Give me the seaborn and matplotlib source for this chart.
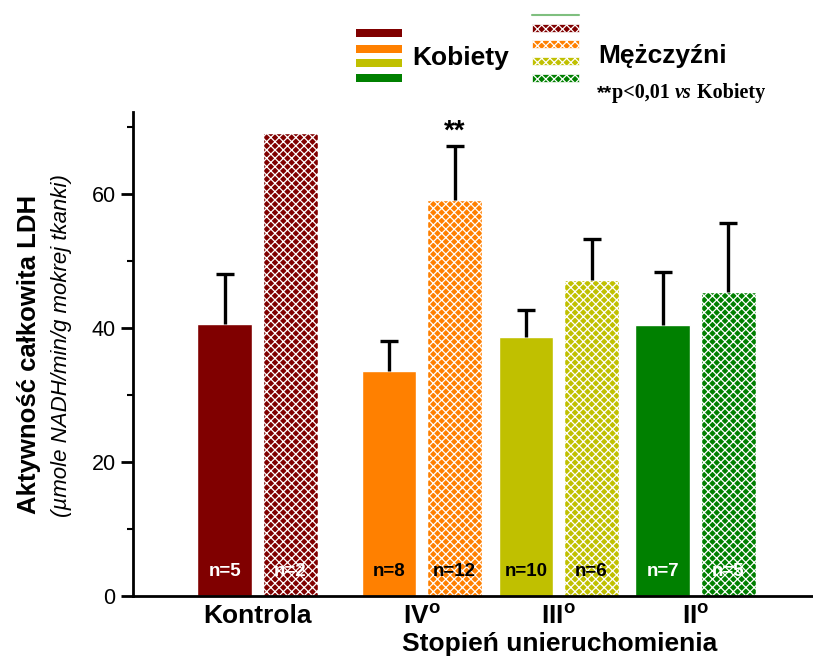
import matplotlib
matplotlib.use("Agg")
import matplotlib.pyplot as plt
from matplotlib.patches import Rectangle
from matplotlib.lines import Line2D
import pandas as pd
import seaborn as sns

# --- data -------------------------------------------------------------
group_pos = [0.0, 1.2, 2.2, 3.2]
group_labels = ["Kontrola", r"IV$^{\mathrm{o}}$", r"III$^{\mathrm{o}}$", r"II$^{\mathrm{o}}$"]
kobiety_mean = [40.6, 33.6, 38.6, 40.4]
kobiety_sd = [7.5, 4.5, 4.0, 8.0]
mezczyzni_mean = [69.1, 59.1, 47.2, 45.3]
mezczyzni_sd = [0.0, 8.1, 6.1, 10.3]
kobiety_n = [5, 8, 10, 7]
mezczyzni_n = [2, 12, 6, 5]
group_colors = ["#800000", "#FF8000", "#C0C000", "#008000"]
n_text_colors = ["white", "black", "black", "white"]
yticks_major = [0, 20, 40, 60]
yticks_minor = [10, 30, 50, 70]

# --- style ------------------------------------------------------------
sns.set_style("ticks")
plt.rcParams["font.family"] = ["Liberation Sans", "DejaVu Sans"]
plt.rcParams["mathtext.fontset"] = "custom"
plt.rcParams["mathtext.rm"] = "Liberation Sans:bold"
plt.rcParams["mathtext.it"] = "Liberation Sans:bold"
plt.rcParams["mathtext.bf"] = "Liberation Sans:bold"
plt.rcParams["hatch.linewidth"] = 0.9
for key in ["text.color", "axes.labelcolor", "xtick.color", "ytick.color",
            "xtick.labelcolor", "ytick.labelcolor"]:
    plt.rcParams[key] = "black"

W, H = 813, 659
fig = plt.figure(figsize=(W / 100, H / 100), dpi=100)
ax = fig.add_axes([133 / W, 1 - 596 / H, (812 - 133) / W, (596 - 112) / H])

df = pd.DataFrame({
    "pos": group_pos * 2,
    "plec": ["Kobiety"] * 4 + ["Mężczyźni"] * 4,
    "val": kobiety_mean + mezczyzni_mean,
})

sns.barplot(data=df, x="pos", y="val", hue="plec", native_scale=True,
            width=0.96, gap=0.17, errorbar=None, legend=False,
            palette=["#800000", "#800000"], ax=ax, zorder=2)

HATCH = "xxxx"
sds = [kobiety_sd, mezczyzni_sd]
means = [kobiety_mean, mezczyzni_mean]
ns = [kobiety_n, mezczyzni_n]
bar_groups = [list(c) for c in ax.containers]
for i, bars in enumerate(bar_groups):
    for j, bar in enumerate(bars):
        bar.set_facecolor(group_colors[j])
        bar.set_edgecolor("white")
        bar.set_linewidth(1.0)
        if i == 1:
            bar.set_hatch(HATCH)
        xc = bar.get_x() + bar.get_width() / 2
        if sds[i][j] > 0:
            top = means[i][j] + sds[i][j]
            # upper-only error bar: stem plus a single cap
            ax.vlines(xc, means[i][j], top, color="black", lw=2.4, zorder=4)
            ax.plot([xc], [top], marker="_", ms=12.5, mew=2.4, color="black",
                    zorder=4)
        ax.text(xc, 3.7, f"n={ns[i][j]}", ha="center", va="center",
                fontsize=13.5, fontweight="bold", color=n_text_colors[j],
                zorder=5)
        if i == 1 and j == 1:
            ax.text(xc, means[i][j] + sds[i][j] + 2.1, "**", ha="center",
                    va="center", fontsize=20, fontweight="bold", zorder=5)

# --- axes -------------------------------------------------------------
ax.set_xlim(-0.909, 4.05)
ax.set_ylim(0, 72.2)
ax.set_yticks(yticks_major)
ax.set_yticks(yticks_minor, minor=True)
ax.tick_params(axis="y", which="major", length=8.5, width=2, labelsize=15.5, pad=4)
ax.tick_params(axis="y", which="minor", length=4, width=1.5)
ax.set_xticks(group_pos)
ax.set_xticklabels(group_labels, fontsize=19, fontweight="bold")
ax.tick_params(axis="x", length=0, pad=6)
for s in ["top", "right"]:
    ax.spines[s].set_visible(False)
for s in ["left", "bottom"]:
    ax.spines[s].set_linewidth(2)
    ax.spines[s].set_color("black")
ax.set_xlabel("Stopień unieruchomienia", fontsize=19, fontweight="bold")
ax.xaxis.set_label_coords((560 - 133) / (812 - 133), (596 - 632) / 484)
ax.set_ylabel("")

fig.text(29 / W, 1 - 354 / H, "Aktywność całkowita LDH", rotation=90,
         ha="center", va="center", fontsize=18.5, fontweight="bold")
fig.text(61 / W, 1 - 346 / H, "(µmole NADH/min/g mokrej tkanki)", rotation=90,
         ha="center", va="center", fontsize=16, style="italic")

# --- legend drawn as figure artists ------------------------------------
def fx(px):
    return px / W

def fy(py):
    return 1 - py / H

for k, top in enumerate([29, 45, 59, 74]):
    fig.add_artist(Rectangle((fx(356), fy(top + 8)), fx(402) - fx(356),
                             fy(top) - fy(top + 8), transform=fig.transFigure,
                             facecolor=group_colors[k], edgecolor="none"))
fig.add_artist(Line2D([fx(532), fx(579)], [fy(14.7), fy(14.7)],
                      transform=fig.transFigure, color="#7fbf7f", lw=1.5))
for k, top in enumerate([24, 40, 57, 74]):
    fig.add_artist(Rectangle((fx(532), fy(top + 8)), fx(579) - fx(532),
                             fy(top) - fy(top + 8), transform=fig.transFigure,
                             facecolor=group_colors[k], edgecolor="white",
                             linewidth=0.5, hatch=HATCH))

fig.text(fx(412), fy(65), "Kobiety", fontsize=19, fontweight="bold",
         va="baseline", ha="left")
fig.text(fx(598), fy(63), "Mężczyźni", fontsize=19, fontweight="bold",
         va="baseline", ha="left")

# significance note composed of several text pieces
fig.canvas.draw()
renderer = fig.canvas.get_renderer()
pieces = [("**", dict(family=["Liberation Sans"], fontweight="bold", fontsize=14)),
          ("p<0,01 ", dict(family=["Liberation Serif"], fontweight="bold", fontsize=14.5)),
          ("vs", dict(family=["Liberation Serif"], fontweight="bold", style="italic", fontsize=14.5)),
          (" Kobiety", dict(family=["Liberation Serif"], fontweight="bold", fontsize=14.5))]
xcur = 597
for txt, kw in pieces:
    t = fig.text(fx(xcur), fy(98), txt, va="baseline", ha="left", **kw)
    bb = t.get_window_extent(renderer)
    xcur += bb.width

fig.savefig("out.png", dpi=100)
